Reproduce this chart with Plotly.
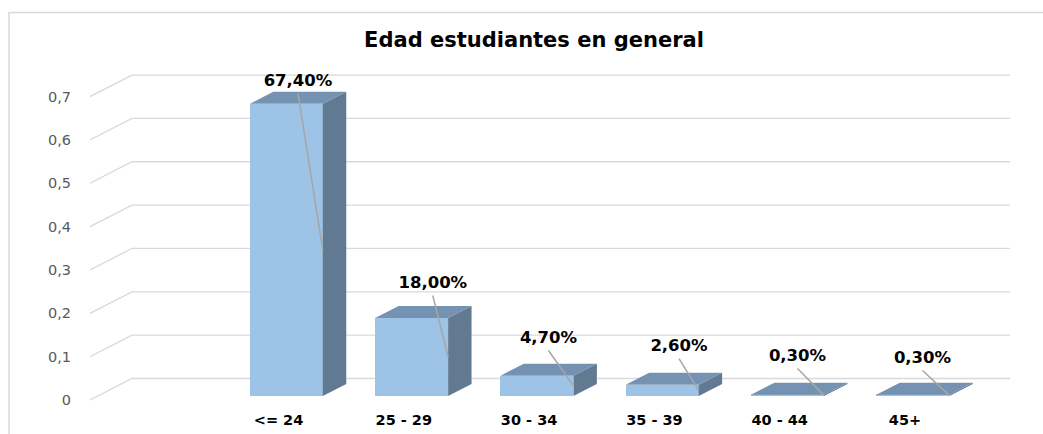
import plotly.graph_objects as go

# ---------------- data ----------------
categories = ["<= 24", "25 - 29", "30 - 34", "35 - 39", "40 - 44", "45+"]
values = [0.674, 0.18, 0.047, 0.026, 0.003, 0.003]
value_labels = ["67,40%", "18,00%", "4,70%", "2,60%", "0,30%", "0,30%"]
y_ticks = [0, 0.1, 0.2, 0.3, 0.4, 0.5, 0.6, 0.7]
title_text = "Edad estudiantes en general"

# ---------------- geometry / style ----------------
FIG_W, FIG_H = 1043, 434
PX_PER_CAT = 125.3          # pixels per category step
PX_PER_VAL = 433.5          # pixels per unit value
X_LEFT, X_RIGHT = 90, FIG_W
Y_TOP, Y_BOTTOM = 0, 405
CAT0 = 278.5                # category 0 center (front plane), px
ZERO = 400                  # value 0 on front plane, px

DX = 42 / PX_PER_CAT        # full depth offset (x, category units)
DV = 21.5 / PX_PER_VAL      # full depth offset (y, value units)
F_FRONT = 0.186             # depth of bar front face
F_DEPTH = 0.558             # bar depth
BAR_W = 73 / PX_PER_CAT
GRID_END = (1010 - CAT0) / PX_PER_CAT

x_range = [(X_LEFT - CAT0) / PX_PER_CAT, (X_RIGHT - CAT0) / PX_PER_CAT]
y_range = [(ZERO - Y_BOTTOM) / PX_PER_VAL, (ZERO - Y_TOP) / PX_PER_VAL]

# label placement offsets (pixels) relative to category center / bar front top
label_dx_px = [19.5, 29, 19.4, 24.6, 17.8, 17.5]
label_dy_px = [22, 34, 36.6, 37.7, 37.7, 35.7]

FRONT = "#9DC3E6"
TOP = "#7592B2"
SIDE = "#627992"
GRID = "#D9D9D9"
LEADER = "#A6A6A6"

fig = go.Figure()

# gridlines (slanted floor-to-wall + horizontal on back wall), below traces
shapes = []
for v in y_ticks:
    path = (f"M {x_range[0]},{v} L {x_range[0] + DX},{v + DV} L {GRID_END},{v + DV}")
    shapes.append(dict(type="path", path=path, xref="x", yref="y", layer="below",
                       line=dict(color=GRID, width=1.3)))

# chart border (left and top)
pw = X_RIGHT - X_LEFT
ph = Y_BOTTOM - Y_TOP
bx = (9 - X_LEFT) / pw
by_top = (Y_BOTTOM - 12.5) / ph
by_bot = (Y_BOTTOM - 440) / ph
shapes.append(dict(type="path", xref="paper", yref="paper",
                   path=f"M {bx},{by_bot} L {bx},{by_top} L 1.05,{by_top}",
                   line=dict(color=GRID, width=1.5)))

base = F_FRONT * DV
xs = [i + F_FRONT * DX for i in range(len(values))]

# front faces
fig.add_trace(go.Bar(x=xs, y=values, base=base, width=BAR_W,
                     marker=dict(color=FRONT, line=dict(width=0)),
                     hoverinfo="skip", showlegend=False))

# top and side faces
for i, v in enumerate(values):
    xl = xs[i] - BAR_W / 2
    xr = xs[i] + BAR_W / 2
    vb = base
    vt = base + v
    ddx = F_DEPTH * DX
    ddv = F_DEPTH * DV
    fig.add_trace(go.Scatter(
        x=[xr, xr, xr + ddx, xr + ddx, xr], y=[vb, vt, vt + ddv, vb + ddv, vb],
        fill="toself", fillcolor=SIDE, mode="lines", line=dict(width=0, color=SIDE),
        hoverinfo="skip", showlegend=False))
    fig.add_trace(go.Scatter(
        x=[xl, xr, xr + ddx, xl + ddx, xl], y=[vt, vt, vt + ddv, vt + ddv, vt],
        fill="toself", fillcolor=TOP, mode="lines", line=dict(width=0, color=TOP),
        hoverinfo="skip", showlegend=False))

# data labels and leader lines
lab_x, lab_y = [], []
for i, v in enumerate(values):
    lx = i + label_dx_px[i] / PX_PER_CAT
    ly = base + v + label_dy_px[i] / PX_PER_VAL
    lab_x.append(lx)
    lab_y.append(ly)
    ex = xs[i] + BAR_W / 2
    ey = base + v / 2
    fig.add_trace(go.Scatter(
        x=[lx, ex], y=[ly - 11.5 / PX_PER_VAL, ey], mode="lines",
        line=dict(color=LEADER, width=1.5), hoverinfo="skip", showlegend=False))

fig.add_trace(go.Scatter(
    x=lab_x, y=lab_y, mode="text", text=value_labels, textposition="middle center",
    textfont=dict(family="DejaVu Sans", size=16.5, color="#000000", weight="bold"),
    hoverinfo="skip", showlegend=False))

fig.update_layout(
    width=FIG_W, height=FIG_H,
    margin=dict(l=X_LEFT, r=FIG_W - X_RIGHT, t=Y_TOP, b=FIG_H - Y_BOTTOM),
    paper_bgcolor="white", plot_bgcolor="white",
    separators=",.",
    shapes=shapes,
    title=dict(text=f"<b>{title_text}</b>", x=534 / FIG_W, xanchor="center",
               y=1 - 40 / FIG_H, yanchor="middle", yref="container",
               font=dict(family="DejaVu Sans", size=21, color="#000000")),
    xaxis=dict(range=x_range, showgrid=False, zeroline=False, showline=False,
               tickvals=list(range(len(categories))), ticktext=categories,
               ticks="", ticklabelstandoff=4,
               tickfont=dict(family="DejaVu Sans", size=14.5, color="#000000", weight="bold")),
    yaxis=dict(range=y_range, showgrid=False, zeroline=False, showline=False,
               tickvals=y_ticks, ticks="", ticklabelstandoff=18,
               tickfont=dict(family="DejaVu Sans", size=14.5, color="#595959")),
    bargap=0,
)

fig.write_html(
    "out.html",
    config={"displayModeBar": False},
    post_script=("document.documentElement.style.overflow='hidden';"
                 "document.body.style.margin='0';document.body.style.overflow='hidden';"),
)
